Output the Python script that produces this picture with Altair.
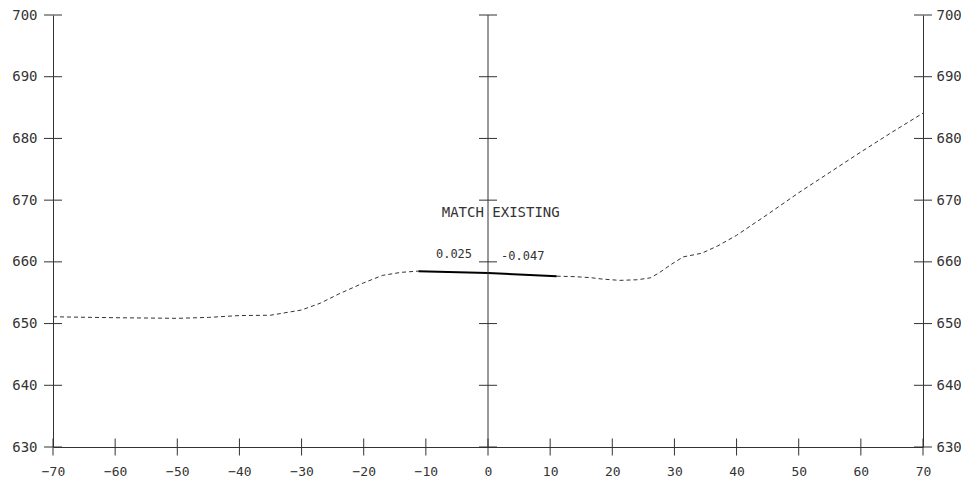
import altair as alt
import pandas as pd

# ---- data ----
y_ticks = [630, 640, 650, 660, 670, 680, 690, 700]
x_ticks = [-70, -60, -50, -40, -30, -20, -10, 0, 10, 20, 30, 40, 50, 60, 70]

left_x = [-70, -60, -50, -45, -40, -35, -30, -27, -24, -20, -17, -14, -11.2]
left_y = [651.1, 650.95, 650.85, 651.0, 651.3, 651.35, 652.2, 653.3, 654.8, 656.6, 657.8, 658.3, 658.5]

prop_x = [-11.2, 0, 11.05]
prop_y = [658.48, 658.2, 657.68]

right_x = [11.05, 14, 16.4, 18.5, 21.2, 24, 26.1, 27.5, 29.5, 31.4, 34.4, 37, 40, 45, 50, 55, 60, 65, 70]
right_y = [657.68, 657.6, 657.45, 657.2, 657.0, 657.1, 657.4, 658.2, 659.6, 660.8, 661.4, 662.6,
           664.3, 667.7, 671.2, 674.5, 677.8, 681.0, 684.1]

note_text = ["MATCH EXISTING", "0.025", "-0.047"]
note_x = [-7.45, -5.47, 5.58]
note_y = [667.9, 661.2, 660.9]

FONT = "DejaVu Sans Mono"
INK = "#333333"

xs = alt.Scale(domain=[-70, 70], nice=False, zero=False)
ys = alt.Scale(domain=[630, 700], nice=False, zero=False)

left_df = pd.DataFrame({"x": left_x, "y": left_y})
prop_df = pd.DataFrame({"x": prop_x, "y": prop_y})
right_df = pd.DataFrame({"x": right_x, "y": right_y})

x_axis = alt.Axis(values=x_ticks, ticks=False, tickSize=0, grid=False, domainColor=INK,
                  labelFont=FONT, labelFontSize=13, labelColor=INK, labelPadding=18,
                  title=None, labelFlush=False)
y_left_axis = alt.Axis(values=y_ticks, orient="left", ticks=False, tickSize=0, grid=False,
                       domainColor=INK, labelFont=FONT, labelFontSize=14, labelColor=INK,
                       labelPadding=16, title=None, labelFlush=False)
y_right_axis = alt.Axis(values=y_ticks, orient="right", ticks=False, tickSize=0, grid=False,
                        domainColor=INK, labelFont=FONT, labelFontSize=14, labelColor=INK,
                        labelPadding=13, title=None, labelFlush=False)

X = alt.X("x:Q", scale=xs, axis=x_axis)

ground_left = alt.Chart(left_df).mark_line(color=INK, strokeWidth=1, strokeDash=[4, 3]).encode(
    x=X,
    y=alt.Y("y:Q", scale=ys, axis=y_left_axis),
)

ground_right = alt.Chart(right_df).mark_line(color=INK, strokeWidth=1, strokeDash=[4, 3]).encode(
    x=X,
    y=alt.Y("y:Q", scale=ys, axis=y_right_axis),
)

proposed = alt.Chart(prop_df).mark_line(color="#000000", strokeWidth=2).encode(
    x=X,
    y=alt.Y("y:Q", scale=ys, axis=None),
)

center_rule = alt.Chart(pd.DataFrame({"x": [0]})).mark_rule(color=INK, strokeWidth=1).encode(
    x=X,
)

# crossing tick marks on the vertical axes (left, centre, right)
vt_rows = [{"x": ax, "y": v} for ax in (-70, 0, 70) for v in y_ticks]
vticks = alt.Chart(pd.DataFrame(vt_rows)).mark_point(
    shape="stroke", size=324, filled=False, color=INK, strokeWidth=1, opacity=1
).encode(
    x=X,
    y=alt.Y("y:Q", scale=ys, axis=None),
)

# crossing tick marks on the bottom axis
ht_rows = [{"x": v, "y": 630} for v in x_ticks]
hticks = alt.Chart(pd.DataFrame(ht_rows)).mark_point(
    shape="stroke", size=289, angle=90, filled=False, color=INK, strokeWidth=1, opacity=1
).encode(
    x=X,
    y=alt.Y("y:Q", scale=ys, axis=None),
)

notes_df = pd.DataFrame({"t": note_text, "x": note_x, "y": note_y})
notes_big = alt.Chart(notes_df.iloc[[0]]).mark_text(
    font=FONT, fontSize=14, color=INK, align="left", baseline="middle"
).encode(
    x=X,
    y=alt.Y("y:Q", scale=ys, axis=None),
    text="t:N",
)
notes_small = alt.Chart(notes_df.iloc[1:]).mark_text(
    font=FONT, fontSize=12, color=INK, align="center", baseline="middle"
).encode(
    x=X,
    y=alt.Y("y:Q", scale=ys, axis=None),
    text="t:N",
)

chart = alt.layer(
    ground_left, ground_right, proposed, center_rule, vticks, hticks, notes_big, notes_small
).resolve_axis(y="independent").properties(
    width=870,
    height=432,
    autosize=alt.AutoSizeParams(type="none"),
    padding={"left": 45, "top": 7, "right": 38, "bottom": 30},
    background="white",
).configure_view(stroke=None)

chart.save("out.html", embed_options={"renderer": "svg", "actions": False})
